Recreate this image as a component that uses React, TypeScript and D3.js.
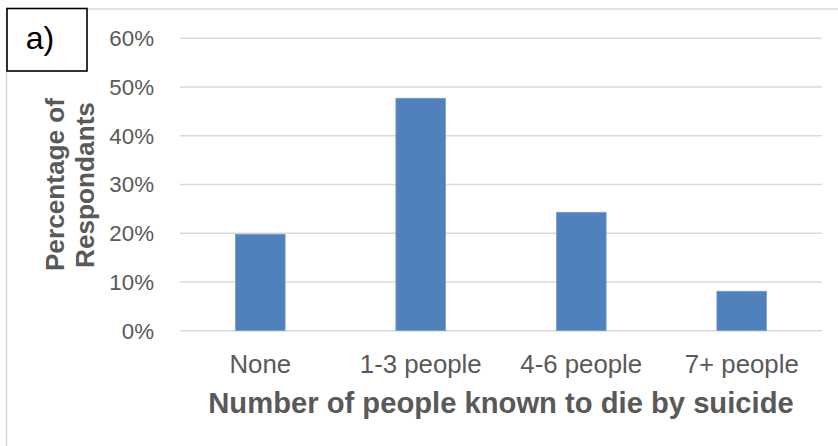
import React from "react";
import * as d3 from "d3";

const categories = ["None", "1-3 people", "4-6 people", "7+ people"];
const values = [19.8, 47.7, 24.3, 8.1];
const yTicks = [0, 10, 20, 30, 40, 50, 60];

const W = 838;
const H = 446;
const FONT = "'Liberation Sans', Arial, sans-serif";
const TEXT = "#595959";
const GRID = "#d9d9d9";
const BAR = "#4f81bd";

export default function App() {
  const x = d3.scaleBand<string>().domain(categories).range([180, 822]).paddingInner(0.69).paddingOuter(0.345);
  const y = d3.scaleLinear().domain([0, 60]).range([330.7, 38.3]);

  return (
    <svg width={W} height={H} style={{ position: "absolute", left: 0, top: 0, background: "#fff" }}>
      <rect x={0} y={0} width={W} height={H} fill="#fff" />
      {/* outer chart border */}
      <rect x={6.5} y={9} width={W + 20} height={H + 20} fill="none" stroke={GRID} strokeWidth={1.5} />
      {/* gridlines */}
      {yTicks.map((t) => (
        <line key={t} x1={180} x2={822} y1={y(t)} y2={y(t)} stroke={GRID} strokeWidth={1.5} />
      ))}
      {/* y tick labels */}
      {yTicks.map((t) => (
        <text key={"l" + t} x={154} y={y(t)} dy="0.35em" textAnchor="end" fontFamily={FONT} fontSize={22.3} fill={TEXT}>
          {t + "%"}
        </text>
      ))}
      {/* bars */}
      {categories.map((c, i) => (
        <rect
          key={c}
          x={x(c)}
          y={y(values[i])}
          width={x.bandwidth()}
          height={y(0) - y(values[i])}
          fill={BAR}
          stroke="#7d9fcf"
          strokeWidth={0.75}
        />
      ))}
      {/* x labels */}
      {categories.map((c) => (
        <text key={"x" + c} x={(x(c) as number) + x.bandwidth() / 2} y={373} textAnchor="middle" fontFamily={FONT} fontSize={25.8} fill={TEXT}>
          {c}
        </text>
      ))}
      {/* x title */}
      <text x={501} y={413} textAnchor="middle" fontFamily={FONT} fontSize={29.2} fontWeight="bold" fill={TEXT}>
        Number of people known to die by suicide
      </text>
      {/* y title */}
      <g transform="translate(63.6,184.5) rotate(-90)">
        <text x={0} y={0} textAnchor="middle" fontFamily={FONT} fontSize={26.2} fontWeight="bold" fill={TEXT}>
          Percentage of
        </text>
      </g>
      <g transform="translate(93.6,185) rotate(-90)">
        <text x={0} y={0} textAnchor="middle" fontFamily={FONT} fontSize={26.2} fontWeight="bold" fill={TEXT}>
          Respondants
        </text>
      </g>
      {/* a) box */}
      <rect x={7} y={8.5} width={80} height={62.5} fill="#fff" stroke="#000" strokeWidth={1.6} />
      <text x={40} y={48.5} textAnchor="middle" fontFamily={FONT} fontSize={32} fill="#000">
        a)
      </text>
    </svg>
  );
}
